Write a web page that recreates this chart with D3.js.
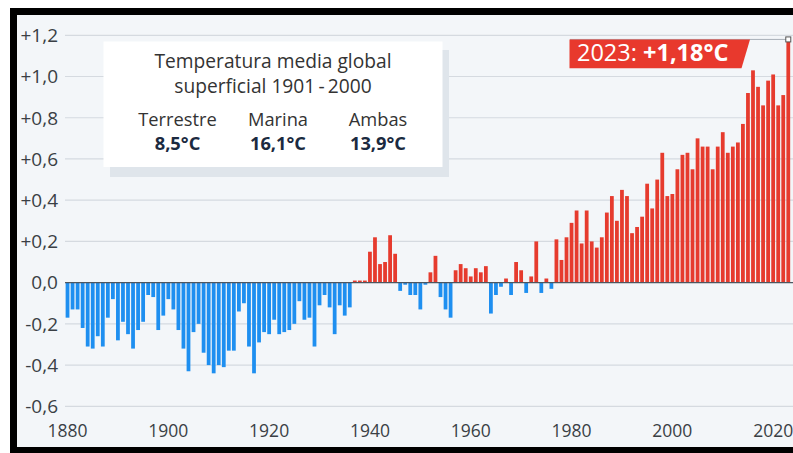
<!DOCTYPE html>
<html>
<head>
<meta charset="utf-8">
<script src="https://cdn.jsdelivr.net/npm/d3@7"></script>
<style>
  html, body { margin: 0; padding: 0; background: #fff; }
  svg { display: block; font-family: "Open Sans", "Noto Sans", sans-serif; }
</style>
</head>
<body>
<div id="chart"></div>
<script>
// datos: anomalía de temperatura (°C) respecto a 1901-2000
const years = d3.range(1880, 2024);
const anomalies = [
  -0.17, -0.13, -0.13, -0.22, -0.31, -0.32, -0.26, -0.31, -0.17, -0.08,
  -0.28, -0.19, -0.25, -0.32, -0.23, -0.19, -0.06, -0.07, -0.23, -0.16,
  -0.08, -0.13, -0.23, -0.32, -0.43, -0.24, -0.20, -0.34, -0.40, -0.44,
  -0.40, -0.41, -0.33, -0.33, -0.14, -0.10, -0.31, -0.44, -0.29, -0.24,
  -0.25, -0.18, -0.25, -0.24, -0.23, -0.20, -0.09, -0.18, -0.17, -0.31,
  -0.11, -0.06, -0.12, -0.25, -0.11, -0.16, -0.12, 0.01, 0.01, 0.01,
  0.15, 0.22, 0.09, 0.10, 0.23, 0.14, -0.04, -0.01, -0.06, -0.06,
  -0.13, -0.01, 0.05, 0.13, -0.07, -0.13, -0.17, 0.06, 0.09, 0.07,
  0.03, 0.07, 0.05, 0.08, -0.15, -0.06, -0.02, 0.02, -0.06, 0.10,
  0.06, -0.05, 0.03, 0.20, -0.05, 0.02, -0.03, 0.21, 0.11, 0.22,
  0.29, 0.35, 0.19, 0.35, 0.20, 0.17, 0.22, 0.34, 0.42, 0.30,
  0.45, 0.42, 0.24, 0.27, 0.32, 0.48, 0.36, 0.50, 0.63, 0.42,
  0.43, 0.55, 0.62, 0.63, 0.55, 0.70, 0.66, 0.66, 0.55, 0.66,
  0.73, 0.63, 0.66, 0.68, 0.77, 0.92, 1.03, 0.95, 0.86, 0.98,
  1.01, 0.86, 0.91, 1.18
];
const yTicks = [-0.6, -0.4, -0.2, 0, 0.2, 0.4, 0.6, 0.8, 1.0, 1.2];
const xTickYears = [1880, 1900, 1920, 1940, 1960, 1980, 2000, 2020];

const baseTitle = ['Temperatura media global', 'superficial 1901\u2009-\u20092000'];
const baseNames = ['Terrestre', 'Marina', 'Ambas'];
const baseValues = ['8,5°C', '16,1°C', '13,9°C'];

const lastYear = 2023;
const lastValue = 1.18;

const width = 793, height = 453;

const svg = d3.select('#chart').append('svg')
  .attr('width', width)
  .attr('height', height);

// marco negro y fondo
svg.append('rect').attr('x', 10).attr('y', 8).attr('width', width).attr('height', height)
  .attr('fill', '#000');
svg.append('rect').attr('x', 17).attr('y', 15).attr('width', width).attr('height', 432)
  .attr('fill', '#f3f6f9');

// escalas
const x = d3.scaleBand()
  .domain(years)
  .range([65, 790.8])
  .paddingInner(0.25)
  .paddingOuter(0.125);

const y = d3.scaleLinear()
  .domain([-0.6, 1.2])
  .range([406.3, 35.3]);

const fmt = v => {
  const s = Math.abs(v).toFixed(1).replace('.', ',');
  if (Math.abs(v) < 1e-9) return '0,0';
  return (v > 0 ? '+' : '-') + s;
};

// cuadrícula
svg.append('g')
  .selectAll('line')
  .data(yTicks.filter(d => d !== 0))
  .join('line')
  .attr('x1', 65).attr('x2', width)
  .attr('y1', d => y(d)).attr('y2', d => y(d))
  .attr('stroke', '#d5dae0')
  .attr('stroke-width', 1.2);

// etiquetas eje y
svg.append('g')
  .selectAll('text')
  .data(yTicks)
  .join('text')
  .attr('x', 58)
  .attr('y', d => y(d))
  .attr('dy', '0.36em')
  .attr('text-anchor', 'end')
  .attr('font-size', 19)
  .attr('fill', '#3a3f45')
  .text(fmt);

// caja de referencia (sombra + caja)
svg.append('rect').attr('x', 110).attr('y', 50).attr('width', 339).attr('height', 127)
  .attr('fill', '#dfe5eb');
svg.append('rect').attr('x', 103.5).attr('y', 41.5).attr('width', 339).attr('height', 125.5)
  .attr('fill', '#ffffff');

svg.append('g')
  .selectAll('text')
  .data(baseTitle)
  .join('text')
  .attr('x', 273)
  .attr('y', (d, i) => 68 + i * 25)
  .attr('text-anchor', 'middle')
  .attr('font-size', 19.2)
  .attr('fill', '#333')
  .text(d => d);

const colX = [177.5, 278, 378];
svg.append('g')
  .selectAll('text')
  .data(baseNames)
  .join('text')
  .attr('x', (d, i) => colX[i])
  .attr('y', 125.5)
  .attr('text-anchor', 'middle')
  .attr('font-size', 18.3)
  .attr('fill', '#333')
  .text(d => d);

svg.append('g')
  .selectAll('text')
  .data(baseValues)
  .join('text')
  .attr('x', (d, i) => colX[i])
  .attr('y', 149.5)
  .attr('text-anchor', 'middle')
  .attr('font-size', 18.3)
  .attr('font-weight', 'bold')
  .attr('fill', '#1b2a40')
  .text(d => d);

// barras
svg.append('g')
  .selectAll('rect')
  .data(years.map((yr, i) => ({ yr, v: anomalies[i] })))
  .join('rect')
  .attr('x', d => x(d.yr))
  .attr('width', x.bandwidth())
  .attr('y', d => d.v >= 0 ? y(d.v) : y(0))
  .attr('height', d => Math.abs(y(d.v) - y(0)))
  .attr('fill', d => d.v >= 0 ? '#e63b2e' : '#1e8ff0');

// línea cero
svg.append('line')
  .attr('x1', 65).attr('x2', width)
  .attr('y1', y(0)).attr('y2', y(0))
  .attr('stroke', '#4d5660')
  .attr('stroke-width', 1.2);

// etiquetas eje x
svg.append('g')
  .selectAll('text')
  .data(xTickYears)
  .join('text')
  .attr('x', d => x(d) + x.bandwidth() / 2)
  .attr('y', 437)
  .attr('text-anchor', 'middle')
  .attr('font-size', 17.5)
  .attr('fill', '#3a3f45')
  .text(d => d);

// anotación del último año
const markX = x(lastYear) + x.bandwidth() / 2;
const markY = y(lastValue);
svg.append('line')
  .attr('x1', 570).attr('x2', markX)
  .attr('y1', markY).attr('y2', markY)
  .attr('stroke', '#a9b0b8')
  .attr('stroke-width', 1);
svg.append('rect')
  .attr('x', markX - 2.5).attr('y', markY - 2.5)
  .attr('width', 5).attr('height', 5)
  .attr('fill', '#fff')
  .attr('stroke', '#555')
  .attr('stroke-width', 1);

svg.append('path')
  .attr('d', `M569.5,${markY} L750,${markY} L741.5,68.3 L569.5,68.3 Z`)
  .attr('fill', '#e8392d');

const lbl = svg.append('text')
  .attr('x', 577)
  .attr('y', 60.5)
  .attr('font-size', 23.5)
  .attr('fill', '#fff');
lbl.append('tspan').text(lastYear + ': ');
lbl.append('tspan').attr('font-weight', 'bold').text('+' + lastValue.toFixed(2).replace('.', ',') + '°C');
</script>
</body>
</html>
